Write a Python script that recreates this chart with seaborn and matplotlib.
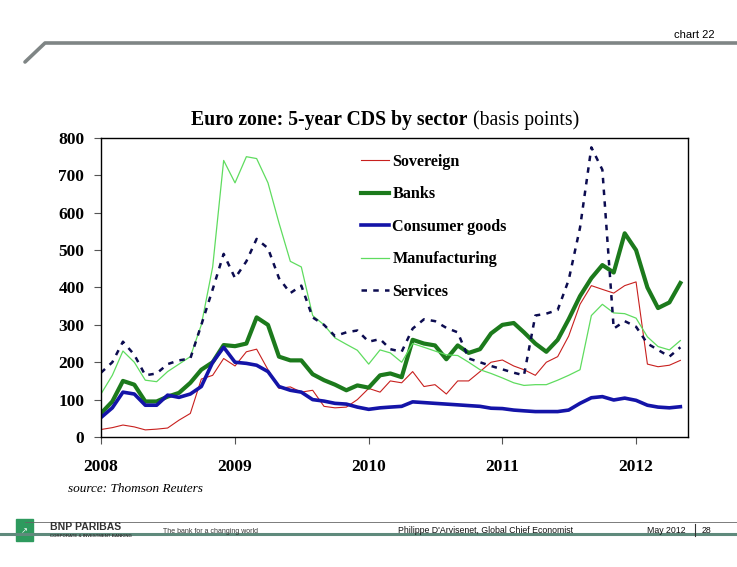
import matplotlib.pyplot as plt
import matplotlib.dates as mdates
from matplotlib.lines import Line2D
from matplotlib.patches import Rectangle
import pandas as pd
import seaborn as sns

# monthly readings (basis points), Jan 2008 - May 2012
dates = pd.date_range('2008-01-01', periods=53, freq='MS')

sovereign = [20, 25, 32, 27, 19, 21, 24, 45, 63, 155, 165, 210,
             190, 228, 235, 180, 130, 134, 120, 125, 82, 78, 80, 100,
             130, 120, 150, 145, 175, 135, 140, 115, 150, 150, 175, 200,
             206, 190, 180, 165, 200, 215, 270, 355, 405, 395, 385, 405,
             415, 195, 188, 192, 205]
banks = [63, 95, 150, 140, 95, 95, 108, 118, 145, 180, 200, 246,
         243, 250, 320, 300, 215, 205, 205, 168, 152, 140, 125, 138,
         132, 165, 170, 160, 260, 250, 245, 208, 245, 225, 235, 277,
         300, 305, 280, 250, 228, 260, 315, 377, 425, 460, 440, 545,
         500, 400, 345, 360, 412]
consumer = [52, 78, 120, 115, 85, 85, 112, 106, 115, 135, 200, 240,
            200, 197, 192, 175, 135, 125, 120, 100, 96, 90, 88, 80,
            74, 78, 80, 82, 94, 92, 90, 88, 86, 84, 82, 77,
            76, 72, 70, 68, 68, 68, 72, 90, 105, 108, 99, 104,
            98, 85, 80, 78, 81]
manufacturing = [115, 165, 230, 200, 152, 148, 175, 195, 215, 300, 455, 740,
                 680, 750, 745, 680, 573, 470, 455, 325, 300, 265, 248, 232,
                 195, 233, 225, 200, 250, 240, 230, 220, 218, 200, 180, 170,
                 158, 145, 138, 140, 140, 152, 165, 180, 325, 355, 332, 330,
                 318, 268, 242, 233, 258]
services = [172, 200, 255, 220, 165, 170, 195, 205, 210, 300, 395, 490,
            425, 470, 530, 505, 425, 385, 405, 320, 300, 270, 280, 285,
            255, 262, 235, 228, 290, 315, 310, 292, 280, 210, 200, 190,
            181, 172, 165, 325, 330, 340, 420, 560, 775, 715, 290, 310,
            295, 250, 233, 215, 240]

series = ['Sovereign', 'Banks', 'Consumer goods', 'Manufacturing', 'Services']
values = [sovereign, banks, consumer, manufacturing, services]
colors = ['#c8201e', '#1c7a1c', '#1414a8', '#5fdc5f', '#0c0c50']
widths = [0.8, 3.0, 2.6, 0.9, 1.8]

serif = 'Liberation Serif'
narrow = ['Liberation Sans Narrow', 'Liberation Sans']

fig = plt.figure(figsize=(7.37, 5.67), dpi=100)
ax = fig.add_axes([0.137, 0.2293, 0.7966, 0.5273])

for name, vals, c, w in zip(series, values, colors, widths):
    sns.lineplot(x=dates, y=vals, ax=ax, color=c, lw=w, label=name)
ax.lines[-1].set_dashes([2.2, 2.5])

ax.set_xlim(pd.Timestamp('2008-01-01'), pd.Timestamp('2012-05-22'))
ax.set_ylim(0, 800)
ax.set_yticks(range(0, 801, 100))
ax.xaxis.set_major_locator(mdates.YearLocator())
ax.xaxis.set_major_formatter(mdates.DateFormatter('%Y'))
ax.set_xlabel('')
ax.set_ylabel('')
ax.tick_params(axis='x', direction='out', length=5, pad=11, width=0.8, color='#555555')
ax.tick_params(axis='y', direction='out', length=5, pad=7, width=0.8, color='#555555')
for lab in ax.get_xticklabels() + ax.get_yticklabels():
    lab.set_fontfamily(serif)
    lab.set_fontweight('bold')
    lab.set_fontsize(12.5)
for s in ax.spines.values():
    s.set_linewidth(1.0)
    s.set_color('black')

leg = ax.legend(loc='upper left', bbox_to_anchor=(0.418, 0.995), frameon=False,
                handlelength=1.75, handletextpad=0.2, labelspacing=1.02,
                prop={'family': serif, 'weight': 'bold', 'size': 11.6})

# title: bold part + normal part
fig.text(467 / 737, 1 - 125 / 567, 'Euro zone: 5-year CDS by sector', family=serif,
         weight='bold', size=14.2, ha='right', va='baseline')
fig.text(468 / 737, 1 - 125 / 567, ' (basis points)', family=serif, size=14.2,
         ha='left', va='baseline')

fig.text(68 / 737, 1 - 492 / 567, 'source: Thomson Reuters', family=serif,
         style='italic', size=9.5)

# header
fig.add_artist(Line2D([25 / 737, 45 / 737, 1], [1 - 62 / 567, 1 - 43 / 567, 1 - 43 / 567],
                      color='#7f8585', lw=2.6, solid_capstyle='round'))
fig.text(715 / 737, 1 - 38 / 567, 'chart 22', family=narrow, size=8, ha='right')

# footer
fig.add_artist(Line2D([25 / 737, 1], [1 - 521.5 / 567] * 2, color='#666666', lw=0.6))
fig.add_artist(Line2D([0, 1], [1 - 533.5 / 567] * 2, color='#5f8a7c', lw=2.2))
fig.add_artist(Rectangle((16 / 737, 1 - 541 / 567), 17 / 737, 22 / 567,
                         color='#2e9a5e', transform=fig.transFigure))
fig.text(24.5 / 737, 1 - 531 / 567, '\u2197', color='white', size=6,
         ha='center', va='center')
fig.text(50 / 737, 1 - 530 / 567, 'BNP PARIBAS', family=narrow, weight='bold',
         size=7.5, color='#333333')
fig.text(50 / 737, 1 - 537 / 567, 'CORPORATE & INVESTMENT BANKING', family=narrow,
         weight='bold', size=3.2, color='#333333')
fig.text(163 / 737, 1 - 533 / 567, 'The bank for a changing world', family=narrow,
         size=5, color='#333333')
fig.text(398 / 737, 1 - 533 / 567, "Philippe D'Arvisenet, Global Chief Economist",
         family=narrow, size=6.3, color='#111111')
fig.text(647 / 737, 1 - 533 / 567, 'May 2012', family=narrow, size=6.3, color='#111111')
fig.add_artist(Line2D([695 / 737] * 2, [1 - 524 / 567, 1 - 536 / 567], color='#333333', lw=0.8))
fig.text(702 / 737, 1 - 533 / 567, '28', family=narrow, size=6.3, color='#111111')

fig.savefig('out.png', dpi=100)
